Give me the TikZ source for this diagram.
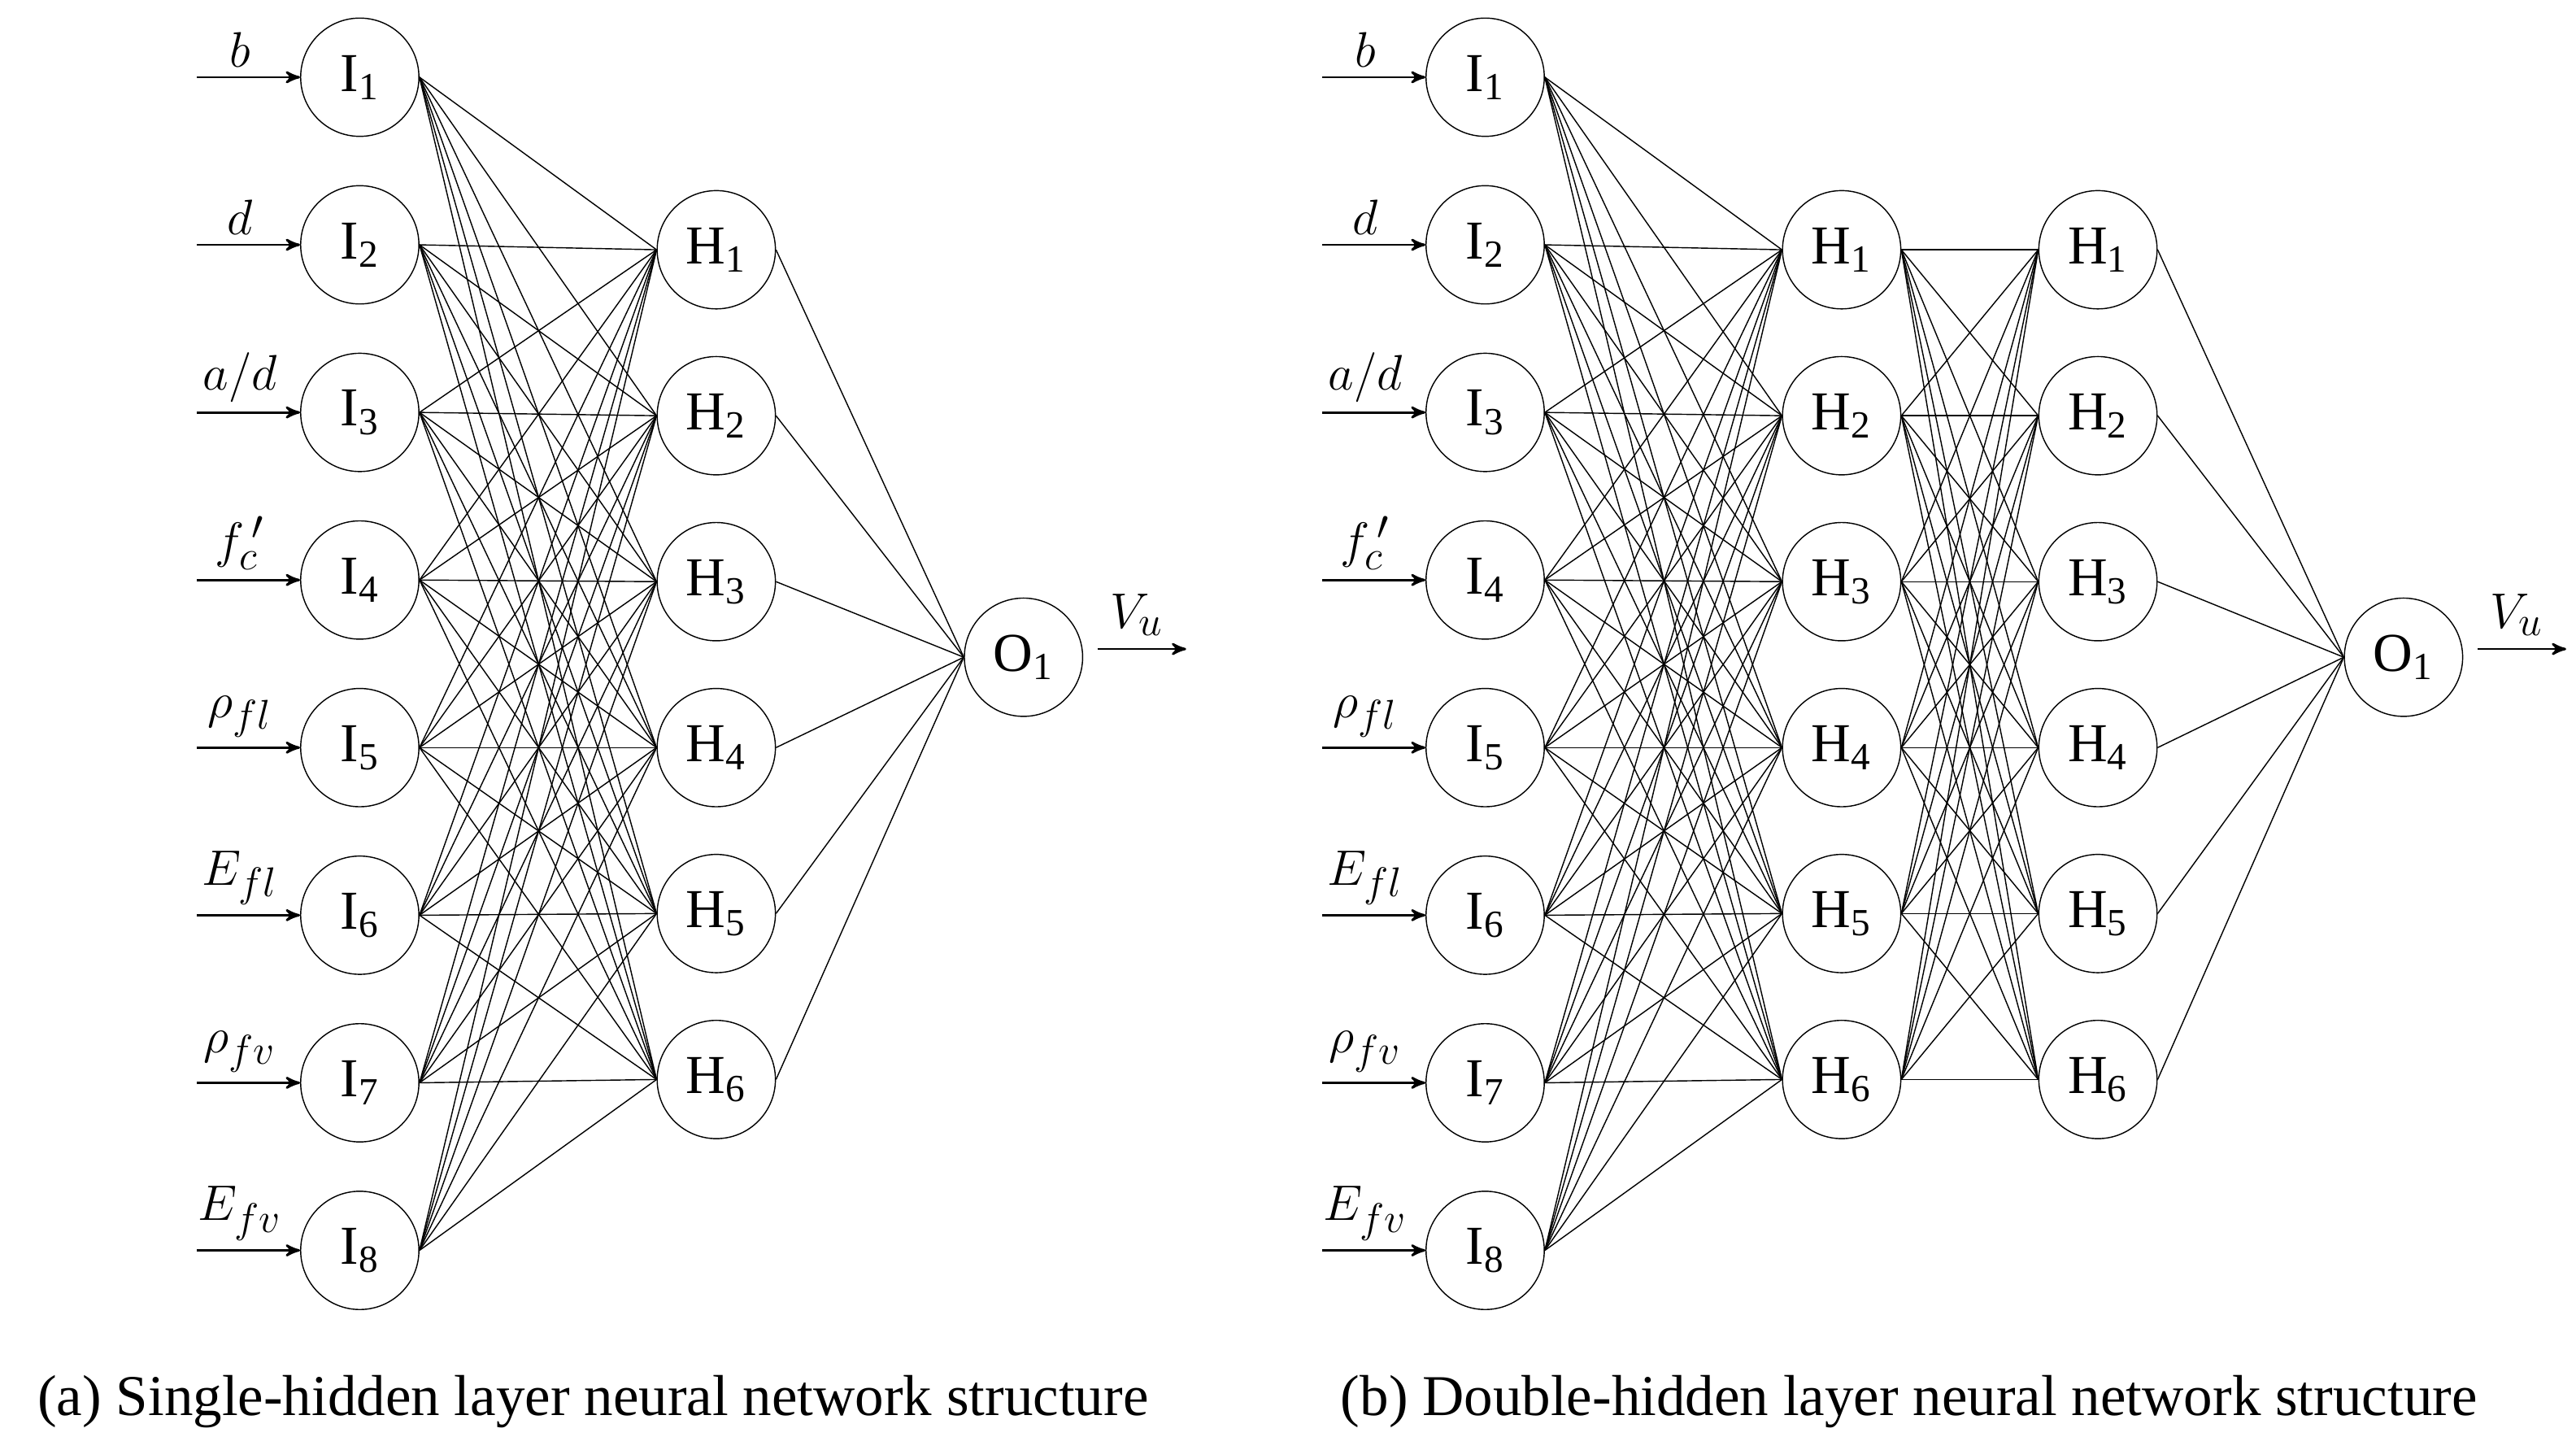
\documentclass[tikz,border=0pt]{standalone}
\usepackage{fontspec}
\setmainfont{Liberation Serif}
\usetikzlibrary{arrows}

\tikzset{
  neuron/.style={circle, draw, thin, minimum size=1.44cm, inner sep=0pt, font=\fontsize{19}{20}\selectfont},
  link/.style={thin},
  feed/.style={->, thick, >=stealth'},
  inlab/.style={font=\fontsize{19}{20}\selectfont}
}

\begin{document}
\begin{tikzpicture}[x=0.02cm, y=-0.02cm]
  \useasboundingbox (0,0) rectangle (1568,882);

  % panel (a)
  \foreach \i/\lab in {1/{$b$},2/{$d$},3/{$a/d$},4/{$f_c^{\,\prime}$},5/{$\rho_{fl}$},6/{$E_{fl}$},7/{$\rho_{fv}$},8/{$E_{fv}$}} {
    \pgfmathsetmacro{\yy}{47+(\i-1)*102}
    \node[neuron] (a-I\i) at (219,\yy) {I\textsubscript{\i}};
    \coordinate (a-s\i) at (120,\yy);
    \draw[feed] (a-s\i) -- (a-I\i.west);
    \node[inlab, above] at (146,\yy) {\lab};
  }
  \foreach \j in {1,...,6} {
    \pgfmathsetmacro{\yy}{152+(\j-1)*101}
    \node[neuron] (a-H\j) at (436,\yy) {H\textsubscript{\j}};
  }
  \node[neuron] (a-O) at (623,400) {O\textsubscript{1}};
  \foreach \i in {1,...,8}
    \foreach \j in {1,...,6}
      \draw[link] (a-I\i.east) -- (a-H\j.west);
  \foreach \j in {1,...,6}
    \draw[link] (a-H\j.east) -- (a-O.west);
  \coordinate (a-u) at (668,395);
  \coordinate (a-t) at (722,395);
  \draw[feed] (a-u) -- (a-t);
  \node[inlab, above] at (692,393) {$V_u$};
  \node[font=\fontsize{20}{22}\selectfont] (a-cap) at (361,853) {(a) Single-hidden layer neural network structure};

  % panel (b)
  \foreach \i/\lab in {1/{$b$},2/{$d$},3/{$a/d$},4/{$f_c^{\,\prime}$},5/{$\rho_{fl}$},6/{$E_{fl}$},7/{$\rho_{fv}$},8/{$E_{fv}$}} {
    \pgfmathsetmacro{\yy}{47+(\i-1)*102}
    \node[neuron] (b-I\i) at (904,\yy) {I\textsubscript{\i}};
    \coordinate (b-s\i) at (805,\yy);
    \draw[feed] (b-s\i) -- (b-I\i.west);
    \node[inlab, above] at (831,\yy) {\lab};
  }
  \foreach \j in {1,...,6} {
    \pgfmathsetmacro{\yy}{152+(\j-1)*101}
    \node[neuron] (b-H\j) at (1121,\yy) {H\textsubscript{\j}};
    \node[neuron] (b-K\j) at (1277,\yy) {H\textsubscript{\j}};
  }
  \node[neuron] (b-O) at (1463,400) {O\textsubscript{1}};
  \foreach \i in {1,...,8}
    \foreach \j in {1,...,6}
      \draw[link] (b-I\i.east) -- (b-H\j.west);
  \foreach \i in {1,...,6}
    \foreach \j in {1,...,6}
      \draw[link] (b-H\i.east) -- (b-K\j.west);
  \foreach \j in {1,...,6}
    \draw[link] (b-K\j.east) -- (b-O.west);
  \coordinate (b-u) at (1508,395);
  \coordinate (b-t) at (1562,395);
  \draw[feed] (b-u) -- (b-t);
  \node[inlab, above] at (1532,393) {$V_u$};
  \node[font=\fontsize{20}{22}\selectfont] (b-cap) at (1162,853) {(b) Double-hidden layer neural network structure};
\end{tikzpicture}
\end{document}
